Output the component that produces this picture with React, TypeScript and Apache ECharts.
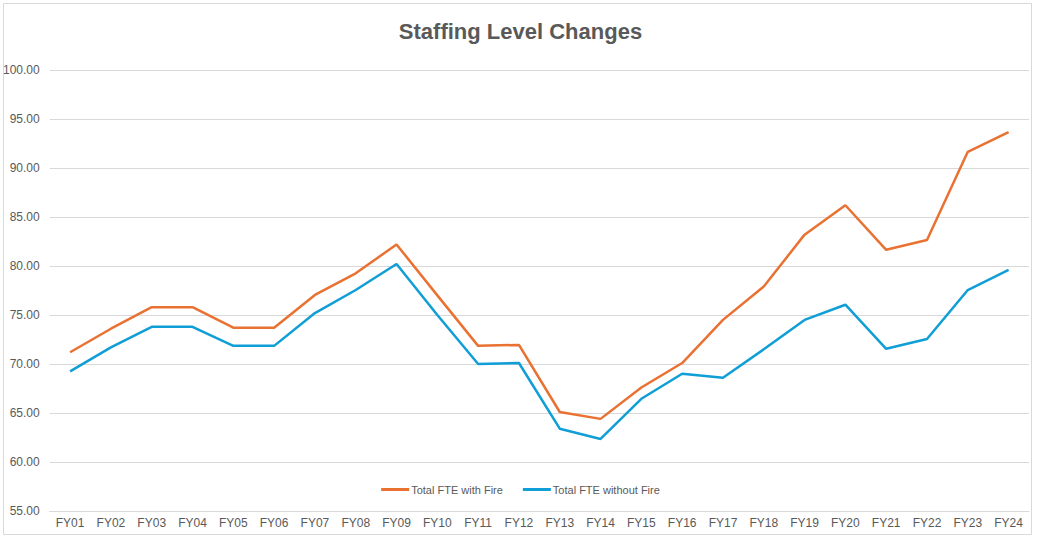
import React, { useEffect, useRef } from "react";
import * as echarts from "echarts";

const categories = ["FY01","FY02","FY03","FY04","FY05","FY06","FY07","FY08","FY09","FY10","FY11","FY12","FY13","FY14","FY15","FY16","FY17","FY18","FY19","FY20","FY21","FY22","FY23","FY24"];
const withFire = [71.2,73.6,75.8,75.8,73.7,73.7,77.05,79.25,82.2,77.0,71.85,71.95,65.1,64.4,67.6,70.1,74.5,77.9,83.2,86.2,81.65,82.65,91.65,93.65];
const withoutFire = [69.25,71.7,73.8,73.8,71.85,71.85,75.2,77.55,80.2,75.0,70.0,70.1,63.4,62.35,66.45,69.0,68.6,71.5,74.5,76.05,71.55,72.55,77.55,79.6];
const seriesNames = ["Total FTE with Fire", "Total FTE without Fire"];
const colors = ["#E97132", "#0F9ED5"];

export default function App() {
  const ref = useRef<HTMLDivElement>(null);
  useEffect(() => {
    if (!ref.current) return;
    const chart = echarts.init(ref.current, undefined, { renderer: "svg" });
    const font = "'Liberation Sans Narrow', 'Liberation Sans', Arial, sans-serif";
    chart.setOption({
      animation: false,
      backgroundColor: "#ffffff",
      title: {
        text: "Staffing Level Changes",
        left: "center",
        top: 15,
        textStyle: { fontFamily: font, fontSize: 22, fontWeight: "bold", color: "#595959" },
      },
      graphic: [
        {
          type: "rect",
          shape: { x: 3.5, y: 3.5, width: 1028, height: 531 },
          style: { fill: "none", stroke: "#d9d9d9", lineWidth: 1 },
          silent: true,
        },
      ],
      legend: {
        bottom: 40,
        left: "center",
        itemWidth: 28,
        itemHeight: 3,
        itemGap: 20,
        icon: "rect",
        textStyle: { fontFamily: font, fontSize: 11, color: "#595959", padding: [0, 0, 0, -3] },
        data: seriesNames,
      },
      grid: { left: 48, right: 12, top: 70, bottom: 29, containLabel: false },
      xAxis: {
        type: "category",
        data: categories,
        boundaryGap: true,
        axisLine: { lineStyle: { color: "#d9d9d9" } },
        axisTick: { show: false },
        axisLabel: { fontFamily: font, fontSize: 12, color: "#595959", margin: 6, interval: 0 },
      },
      yAxis: {
        type: "value",
        min: 55,
        max: 100,
        interval: 5,
        axisLine: { show: false },
        axisTick: { show: false },
        splitLine: { lineStyle: { color: "#d9d9d9" } },
        axisLabel: { fontFamily: font, fontSize: 12, color: "#595959", margin: 10, formatter: (v: number) => v.toFixed(2) },
      },
      series: [
        {
          name: seriesNames[0],
          type: "line",
          data: withFire,
          symbol: "none",
          lineStyle: { color: colors[0], width: 2.5 },
          itemStyle: { color: colors[0] },
        },
        {
          name: seriesNames[1],
          type: "line",
          data: withoutFire,
          symbol: "none",
          lineStyle: { color: colors[1], width: 2.5 },
          itemStyle: { color: colors[1] },
        },
      ],
    });
    return () => chart.dispose();
  }, []);
  return <div ref={ref} style={{ position: "fixed", left: 0, top: 0, width: 1041, height: 540 }} />;
}
